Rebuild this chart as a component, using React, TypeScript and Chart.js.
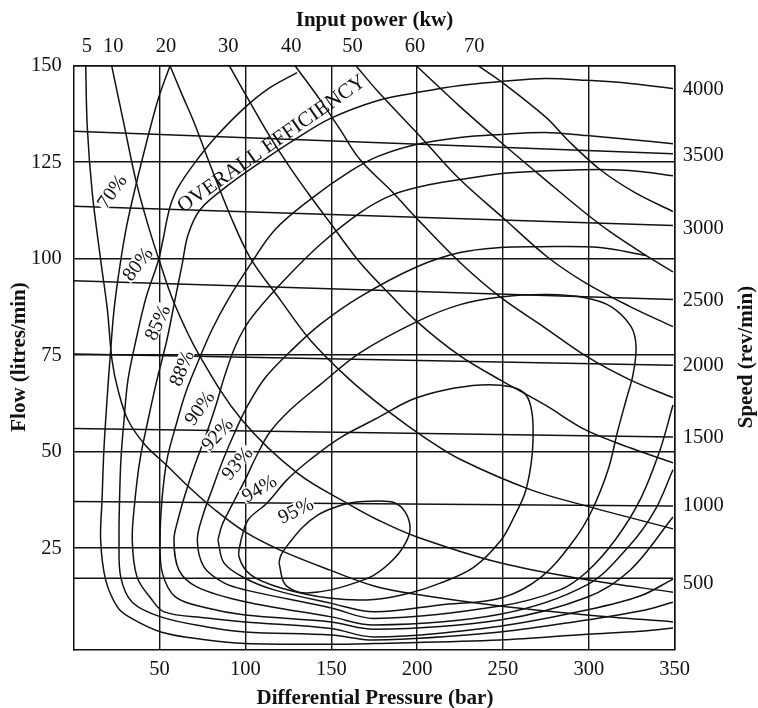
import React, { useEffect, useRef } from "react";
import { Chart, registerables } from "chart.js";

Chart.register(...registerables);

// ---------- axes ----------
const PRESSURE_TICKS = [50, 100, 150, 200, 250, 300, 350];
const FLOW_TICKS = [25, 50, 75, 100, 125, 150];
const POWER_LABELS = ["5", "10", "20", "30", "40", "50", "60", "70"];
const POWER_TICK_AT = [7.6, 23.1, 53.7, 90.0, 126.7, 162.4, 198.8, 233.2];
const SPEED_LABELS = ["500", "1000", "1500", "2000", "2500", "3000", "3500", "4000"];
const SPEED_TICK_AT = [15.7, 36.1, 53.7, 72.4, 89.2, 107.9, 126.7, 143.7];

// ---------- speed lines (flow at p=0 and p=349) ----------
const SPEED_LINE_P = [0, 349];
const SPEED_LINE_Q_LEFT = [17.2, 37.1, 56.0, 75.3, 94.3, 113.6, 133.0];
const SPEED_LINE_Q_RIGHT = [17.2, 35.9, 53.8, 72.4, 89.4, 108.6, 127.2];

// ---------- input power curves [pressure bar, flow l/min] ----------
const POWER_5 = [[7.0,150],[7.9,134.2],[10.8,117.1],[15.7,99.7],[19.6,86.8],[22.3,73.8],[25.8,66.0],[31.6,58.2],[41.5,51.8],[53.8,46.6],[67.7,40.6],[82.3,34.9],[99.8,29.2],[120.2,24.5],[149.3,19.3],[174.9,15.2],[198.2,13.1],[248.3,10.0],[298.9,7.7],[349.0,5.9]];
const POWER_10 = [[22.1,150],[29.3,134.8],[36.1,120.5],[42.7,109.6],[49.7,99.7],[58.4,88.6],[73.6,74.6],[98.0,58.2],[130.1,44.5],[160.9,36.2],[177.2,32.3],[199.9,27.9],[248.3,21.2],[298.9,16.8],[349.0,13.6]];
const POWER_20 = [[56.1,150],[63.1,142.5],[70.1,135.3],[79.4,124.4],[91.0,111.4],[102.7,100.3],[120.2,89.4],[137.6,79.0],[160.9,68.6],[184.2,60.1],[204.6,53.6],[225.6,47.9],[266.3,40.1],[298.9,35.9],[349.0,30.0]];
const POWER_30 = [[90.6,150],[102.7,140.5],[114.3,131.6],[126.0,123.6],[137.6,116.3],[149.3,109.3],[166.7,99.0],[184.2,90.7],[199.9,83.7],[225.0,74.8],[248.3,68.6],[274.5,62.1],[297.8,55.7],[324.0,51.0],[349.0,47.1]];
const POWER_40 = [[128.9,150],[143.4,141.2],[155.1,133.5],[166.7,125.7],[186.0,117.1],[198.8,110.9],[225.0,99.0],[248.3,90.1],[274.5,82.1],[298.9,74.6],[324.0,68.6],[349.0,64.0]];
const POWER_50 = [[164.4,150],[177.2,143.3],[203.4,130.9],[225.0,120.5],[250.0,110.6],[275.7,100.5],[297.8,93.8],[324.0,87.6],[349.0,82.4]];
const POWER_60 = [[199.5,150],[225.0,139.4],[248.9,130.1],[274.5,120.5],[297.8,111.9],[312.3,107.0],[332.7,101.0],[349.0,96.6]];
const POWER_70 = [[235.5,150],[248.9,145.9],[275.1,136.6],[287.3,130.9],[306.5,123.1],[326.9,117.1],[349.0,112.2]];

// ---------- overall efficiency contours ----------
const EFF_70 = [[56.1,150],[49.1,141.2],[42.1,129.6],[36.3,119.2],[31.0,108.8],[27.0,98.4],[23.5,86.8],[21.1,73.8],[19.4,63.4],[17.6,50.5],[16.5,37.5],[15.7,27.1],[18.6,16.8],[25.4,9.8],[32.2,7.2],[50.7,3.3],[77.6,1.2],[99.8,0.3],[149.9,0.1],[174.9,0.3],[248.3,1.2],[298.9,2.7],[329.8,3.5],[349.0,4.3]];
const EFF_80 = [[130.1,148.2],[114.3,144.3],[99.8,139.2],[83.5,131.9],[70.6,124.9],[60.7,118.4],[56.7,114.3],[54.3,110.1],[52.0,104.9],[49.1,99.2],[42.1,89.9],[36.3,79.0],[31.6,68.6],[29.3,58.2],[27.5,47.9],[26.7,37.5],[26.4,27.1],[27.4,17.5],[34.1,11.0],[50.7,7.2],[77.6,4.6],[99.8,3.3],[149.9,2.5],[174.9,1.2],[248.3,3.3],[298.9,6.4],[329.8,8.7],[349.0,11.0]];
const EFF_85 = [[349.0,144.1],[324.0,145.4],[298.9,146.2],[274.5,146.7],[248.9,145.9],[225.0,144.9],[199.4,143.0],[177.2,141.0],[149.3,136.3],[128.9,130.9],[108.5,124.9],[88.1,118.4],[73.6,112.7],[66.6,106.2],[63.1,98.4],[59.0,89.4],[54.3,79.0],[48.5,68.6],[43.3,58.2],[38.6,47.9],[35.7,37.5],[34.1,27.1],[36.9,17.5],[44.8,12.1],[52.6,8.5],[77.6,6.9],[99.8,5.9],[149.9,4.2],[174.9,2.0],[248.3,4.8],[298.9,9.0],[329.8,12.6],[349.0,17.0]];
const EFF_88 = [[349.0,129.8],[324.0,130.9],[298.9,131.9],[274.5,132.7],[248.9,132.2],[225.0,131.4],[199.4,129.6],[177.2,126.5],[160.9,122.6],[137.6,115.3],[117.2,107.5],[102.7,98.4],[89.9,89.4],[80.5,81.6],[72.4,73.3],[65.4,65.5],[59.6,56.9],[54.3,47.9],[51.4,37.5],[50.3,27.1],[51.6,18.6],[59.4,12.3],[77.6,9.5],[99.8,7.7],[149.9,5.9],[174.9,4.0],[248.3,6.4],[298.9,12.3],[324.0,19.3],[349.0,33.1]];
const EFF_90 = [[349.0,121.5],[329.8,122.6],[306.5,123.1],[267.5,122.6],[248.3,122.0],[225.0,120.5],[207.5,119.2],[186.0,116.6],[166.7,111.9],[143.4,103.6],[120.2,93.3],[102.7,84.2],[94.5,77.7],[88.1,69.9],[82.9,62.1],[77.1,54.4],[70.6,46.6],[64.8,38.8],[60.7,32.3],[58.4,27.1],[61.3,19.3],[72.0,14.9],[99.8,11.1],[149.9,7.2],[174.9,5.1],[248.3,7.9],[298.9,15.5],[324.0,25.8],[338.6,34.9],[349.0,45.3]];
const EFF_92 = [[333.3,100.8],[306.5,102.9],[269.8,103.1],[248.3,102.9],[225.0,101.6],[199.9,97.9],[166.7,90.1],[143.4,82.9],[126.0,75.9],[111.4,69.1],[101.5,62.1],[93.9,55.1],[87.0,47.9],[80.5,40.1],[75.3,33.6],[72.0,27.1],[75.9,20.1],[87.5,16.0],[99.8,14.2],[149.9,9.5],[174.9,6.8],[248.3,10.0],[283.2,14.2],[298.9,18.9],[315.3,27.1],[329.8,37.5],[341.5,50.5],[349.0,62.1]];
const EFF_93 = [[84.0,27.1],[86.4,31.0],[92.2,36.2],[99.8,42.7],[106.8,49.2],[114.3,55.1],[126.0,60.8],[143.4,67.3],[166.7,75.6],[199.9,83.7],[225.0,88.1],[248.3,90.1],[275.7,90.7],[297.8,89.9],[312.9,87.6],[324.6,82.4],[327.5,77.2],[325.7,69.9],[321.7,63.4],[317.0,55.7],[311.2,45.3],[301.9,34.9],[291.4,27.1],[272.2,17.5],[248.9,12.1],[213.3,10.3],[174.9,8.5],[149.9,10.7],[116.7,14.2],[99.8,17.2],[87.5,21.2],[84.0,27.1]];
const EFF_94 = [[97.4,27.1],[101.5,32.3],[112.6,36.7],[124.2,42.7],[137.6,47.9],[155.1,53.6],[177.2,58.8],[196.4,63.4],[216.2,66.0],[237.2,67.3],[254.7,66.8],[263.4,64.7],[266.9,60.1],[267.5,53.1],[266.3,46.6],[262.8,39.3],[257.0,33.6],[248.9,27.1],[233.1,20.1],[213.9,16.0],[195.9,13.4],[174.9,11.7],[149.9,12.0],[120.7,14.7],[103.3,18.0],[96.3,22.7],[97.4,27.1]];
const EFF_95 = [[119.6,21.2],[122.5,16.0],[128.9,13.9],[135.9,13.4],[149.9,14.2],[163.8,16.0],[174.9,18.0],[187.1,22.5],[194.1,27.1],[195.9,30.5],[193.0,34.4],[187.1,36.7],[177.2,37.2],[160.9,36.7],[151.0,35.4],[142.3,33.6],[133.5,30.5],[126.0,26.6],[120.7,23.2],[119.6,21.2]];

// ---------- annotation text ----------
const EFF_LABELS = ["70%", "80%", "85%", "88%", "90%", "92%", "93%", "94%", "95%"];
const EFF_LABEL_AT = [[22.0,117.5],[36.9,98.7],[48.5,83.5],[62.5,71.7],[73.0,61.4],[83.3,54.6],[94.9,47.1],[107.9,40.6],[129.2,34.9]];
const EFF_LABEL_ANGLE = [55, 52, 65, 68, 54, 48, 50, 30, 26];
const CURVE_TITLE = "OVERALL EFFICIENCY";
const CURVE_TITLE_AT = [114.9, 130.0];
const CURVE_TITLE_ANGLE = 35;

const INK = "#111111";
const FONT = '"Liberation Serif", "Times New Roman", Times, serif';

const lineDs = (pts: number[][], tension = 0.35) => ({
  data: pts.map(([x, y]) => ({ x, y })),
  showLine: true,
  borderColor: INK,
  borderWidth: 1.5,
  pointRadius: 0,
  pointHoverRadius: 0,
  fill: false,
  tension,
  xAxisID: "x",
  yAxisID: "y",
});

const annotationPlugin = {
  id: "annotations",
  afterDatasetsDraw(chart: any) {
    const { ctx, scales } = chart;
    const sx = scales.x;
    const sy = scales.y;
    ctx.save();
    ctx.textAlign = "center";
    ctx.textBaseline = "alphabetic";
    ctx.font = `20px ${FONT}`;
    EFF_LABELS.forEach((t, i) => {
      const [p, q] = EFF_LABEL_AT[i];
      ctx.save();
      ctx.translate(sx.getPixelForValue(p), sy.getPixelForValue(q));
      ctx.rotate((-EFF_LABEL_ANGLE[i] * Math.PI) / 180);
      const w = ctx.measureText(t).width;
      ctx.fillStyle = "#ffffff";
      ctx.fillRect(-w / 2 - 1, -7.5, w + 2, 15);
      ctx.fillStyle = INK;
      ctx.fillText(t, 0, 6.8);
      ctx.restore();
    });
    ctx.font = `21px ${FONT}`;
    ctx.fillStyle = INK;
    ctx.translate(sx.getPixelForValue(CURVE_TITLE_AT[0]), sy.getPixelForValue(CURVE_TITLE_AT[1]));
    ctx.rotate((-CURVE_TITLE_ANGLE * Math.PI) / 180);
    ctx.fillText(CURVE_TITLE, 0, 7);
    ctx.restore();
  },
  afterDraw(chart: any) {
    const { ctx } = chart;
    ctx.save();
    ctx.fillStyle = INK;
    ctx.font = `bold 21px ${FONT}`;
    ctx.textAlign = "center";
    ctx.textBaseline = "alphabetic";
    ctx.fillText("Input power (kw)", 374.5, 26);
    ctx.fillText("Differential Pressure (bar)", 375, 703.5);
    ctx.save();
    ctx.translate(24.5, 357);
    ctx.rotate(-Math.PI / 2);
    ctx.fillText("Flow (litres/min)", 0, 0);
    ctx.restore();
    ctx.save();
    ctx.translate(752, 357);
    ctx.rotate(-Math.PI / 2);
    ctx.fillText("Speed (rev/min)", 0, 0);
    ctx.restore();
    ctx.restore();
  },
};

export default function App() {
  const ref = useRef<HTMLCanvasElement>(null);

  useEffect(() => {
    const canvas = ref.current;
    if (!canvas) return;
    Chart.defaults.font.family = FONT;
    Chart.defaults.color = INK;

    const speedSets = SPEED_LINE_Q_LEFT.map((ql, i) =>
      lineDs([[SPEED_LINE_P[0], ql], [SPEED_LINE_P[1], SPEED_LINE_Q_RIGHT[i]]], 0)
    );
    const curves = [
      POWER_5, POWER_10, POWER_20, POWER_30, POWER_40, POWER_50, POWER_60, POWER_70,
      EFF_70, EFF_80, EFF_85, EFF_88, EFF_90, EFF_92, EFF_93, EFF_94, EFF_95,
    ].map((c) => lineDs(c));

    const tickFont = { family: FONT, size: 20.5 };
    const border = { display: true, color: INK, width: 1.5 };

    const chart = new Chart(canvas, {
      type: "scatter",
      data: { datasets: [...speedSets, ...curves] as any },
      options: {
        responsive: false,
        devicePixelRatio: 1,
        animation: false,
        events: [],
        layout: { padding: 0 },
        plugins: { legend: { display: false }, tooltip: { enabled: false } },
        scales: {
          x: {
            type: "linear",
            position: "bottom",
            min: 0,
            max: 350,
            grid: { color: INK, lineWidth: 1.4, drawTicks: false },
            border,
            ticks: { font: tickFont, color: INK, padding: 8, autoSkip: false, maxRotation: 0 },
            afterBuildTicks: (s: any) => { s.ticks = PRESSURE_TICKS.map((v) => ({ value: v })); },
            afterFit: (s: any) => { s.height = 58.7; },
          },
          x2: {
            type: "linear",
            position: "top",
            min: 0,
            max: 350,
            grid: { display: false, drawTicks: false },
            border,
            ticks: {
              font: tickFont, color: INK, padding: 7, autoSkip: false, maxRotation: 0,
              callback: (_v: any, i: number) => POWER_LABELS[i],
            },
            afterBuildTicks: (s: any) => { s.ticks = POWER_TICK_AT.map((v) => ({ value: v })); },
            afterFit: (s: any) => { s.height = 65.7; },
          },
          y: {
            type: "linear",
            position: "left",
            min: -1.2,
            max: 150,
            grid: { color: INK, lineWidth: 1.4, drawTicks: false },
            border,
            ticks: { font: tickFont, color: INK, padding: 12, autoSkip: false },
            afterBuildTicks: (s: any) => { s.ticks = FLOW_TICKS.map((v) => ({ value: v })); },
            afterFit: (s: any) => { s.width = 73.7; },
          },
          y2: {
            type: "linear",
            position: "right",
            min: -1.2,
            max: 150,
            grid: { display: false, drawTicks: false },
            border,
            ticks: {
              font: tickFont, color: INK, padding: 8, autoSkip: false,
              callback: (_v: any, i: number) => SPEED_LABELS[i],
            },
            afterBuildTicks: (s: any) => { s.ticks = SPEED_TICK_AT.map((v) => ({ value: v })); },
            afterFit: (s: any) => { s.width = 83.3; },
          },
        },
      } as any,
      plugins: [annotationPlugin],
    });

    return () => chart.destroy();
  }, []);

  return (
    <div style={{ position: "absolute", left: 0, top: 0, width: 758, height: 708, background: "#ffffff" }}>
      <canvas ref={ref} width={758} height={708} style={{ display: "block", width: 758, height: 708 }} />
    </div>
  );
}
